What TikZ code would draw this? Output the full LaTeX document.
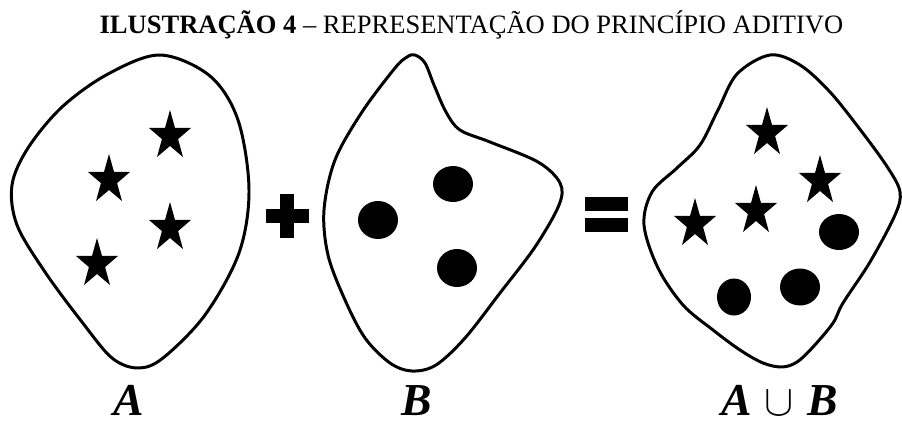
\documentclass[tikz,border=0pt]{standalone}
\usepackage{fontspec}
\setmainfont{Liberation Serif}

\begin{document}
\begin{tikzpicture}[
  x=0.02cm, y=-0.02cm,
  blob/.style={draw=black, line width=1.7pt, line join=round},
  dotmark/.style={fill=black},
  opsign/.style={fill=black},
  heading/.style={font=\fontsize{15.1}{18}\selectfont, inner sep=0pt, anchor=base},
  setlabel/.style={font=\fontsize{26}{30}\selectfont\bfseries\itshape, inner sep=0pt, anchor=base},
  starmark/.pic={\fill[xscale=0.85] (270:26) -- (306:10) -- (342:26) -- (18:10) -- (54:26)
                   -- (90:10) -- (126:26) -- (162:10) -- (198:26) -- (234:10) -- cycle;}
]
\useasboundingbox (0,0) rectangle (902,423);

\node[heading] (title) at (471.5,33) {\textbf{ILUSTRAÇÃO 4} – REPRESENTAÇÃO DO PRINCÍPIO ADITIVO};

\draw[blob] plot[smooth cycle, tension=0.55] coordinates {
  (160,55) (210,76) (238,120) (249,190) (239,253) (205,315) (163,358) (138,368)
  (112,358) (82,322) (45,272) (17,225) (12,185) (28,148) (62,107) (108,74)};
\pic (starA1) at (170,136) {starmark};
\pic (starA2) at (109,180) {starmark};
\pic (starA3) at (170,228) {starmark};
\pic (starA4) at (97,264) {starmark};

\fill[opsign] (266,209) rectangle (309,223);
\fill[opsign] (280,194) rectangle (294,238);

\draw[blob] plot[smooth cycle, tension=0.55] coordinates {
  (415,55) (425,63) (434,85) (446,112) (460,130) (490,142) (538,162) (560,183)
  (559,205) (535,247) (500,293) (465,338) (436,365) (412,371) (390,363) (365,338)
  (345,300) (328,255) (324,210) (335,160) (362,112) (395,68) (407,57)};
\fill[dotmark] (453,184) ellipse [x radius=20, y radius=18];
\fill[dotmark] (378,220) ellipse [x radius=20, y radius=19];
\fill[dotmark] (457,268) ellipse [x radius=20, y radius=19];

\fill[opsign] (585,197) rectangle (628,211);
\fill[opsign] (585,218) rectangle (628,232);

\draw[blob] plot[smooth cycle, tension=0.55] coordinates {
  (770,55) (800,65) (830,92) (862,132) (888,168) (900,192) (895,215) (870,262)
  (843,303) (833,323) (813,347) (797,362) (782,367) (763,363) (740,350) (713,330)
  (683,305) (658,268) (644,225) (652,192) (677,168) (700,145) (718,110) (737,74)};
\pic (starU1) at (767,133) {starmark};
\pic (starU2) at (820,181) {starmark};
\pic (starU3) at (756,211) {starmark};
\pic (starU4) at (695,224) {starmark};
\fill[dotmark] (839,232) ellipse [x radius=20, y radius=18];
\fill[dotmark] (800,287) ellipse [x radius=20, y radius=18.5];
\fill[dotmark] (734,297) ellipse [x radius=17, y radius=18.5];

\node[setlabel] (labA) at (129,415) {A};
\node[setlabel] (labB) at (417,415) {B};
\node[setlabel] (labAB) at (780,415) {A\hspace{7pt}{\fontsize{25}{28}\selectfont$\cup$}\hspace{8pt}B};
\end{tikzpicture}
\end{document}
